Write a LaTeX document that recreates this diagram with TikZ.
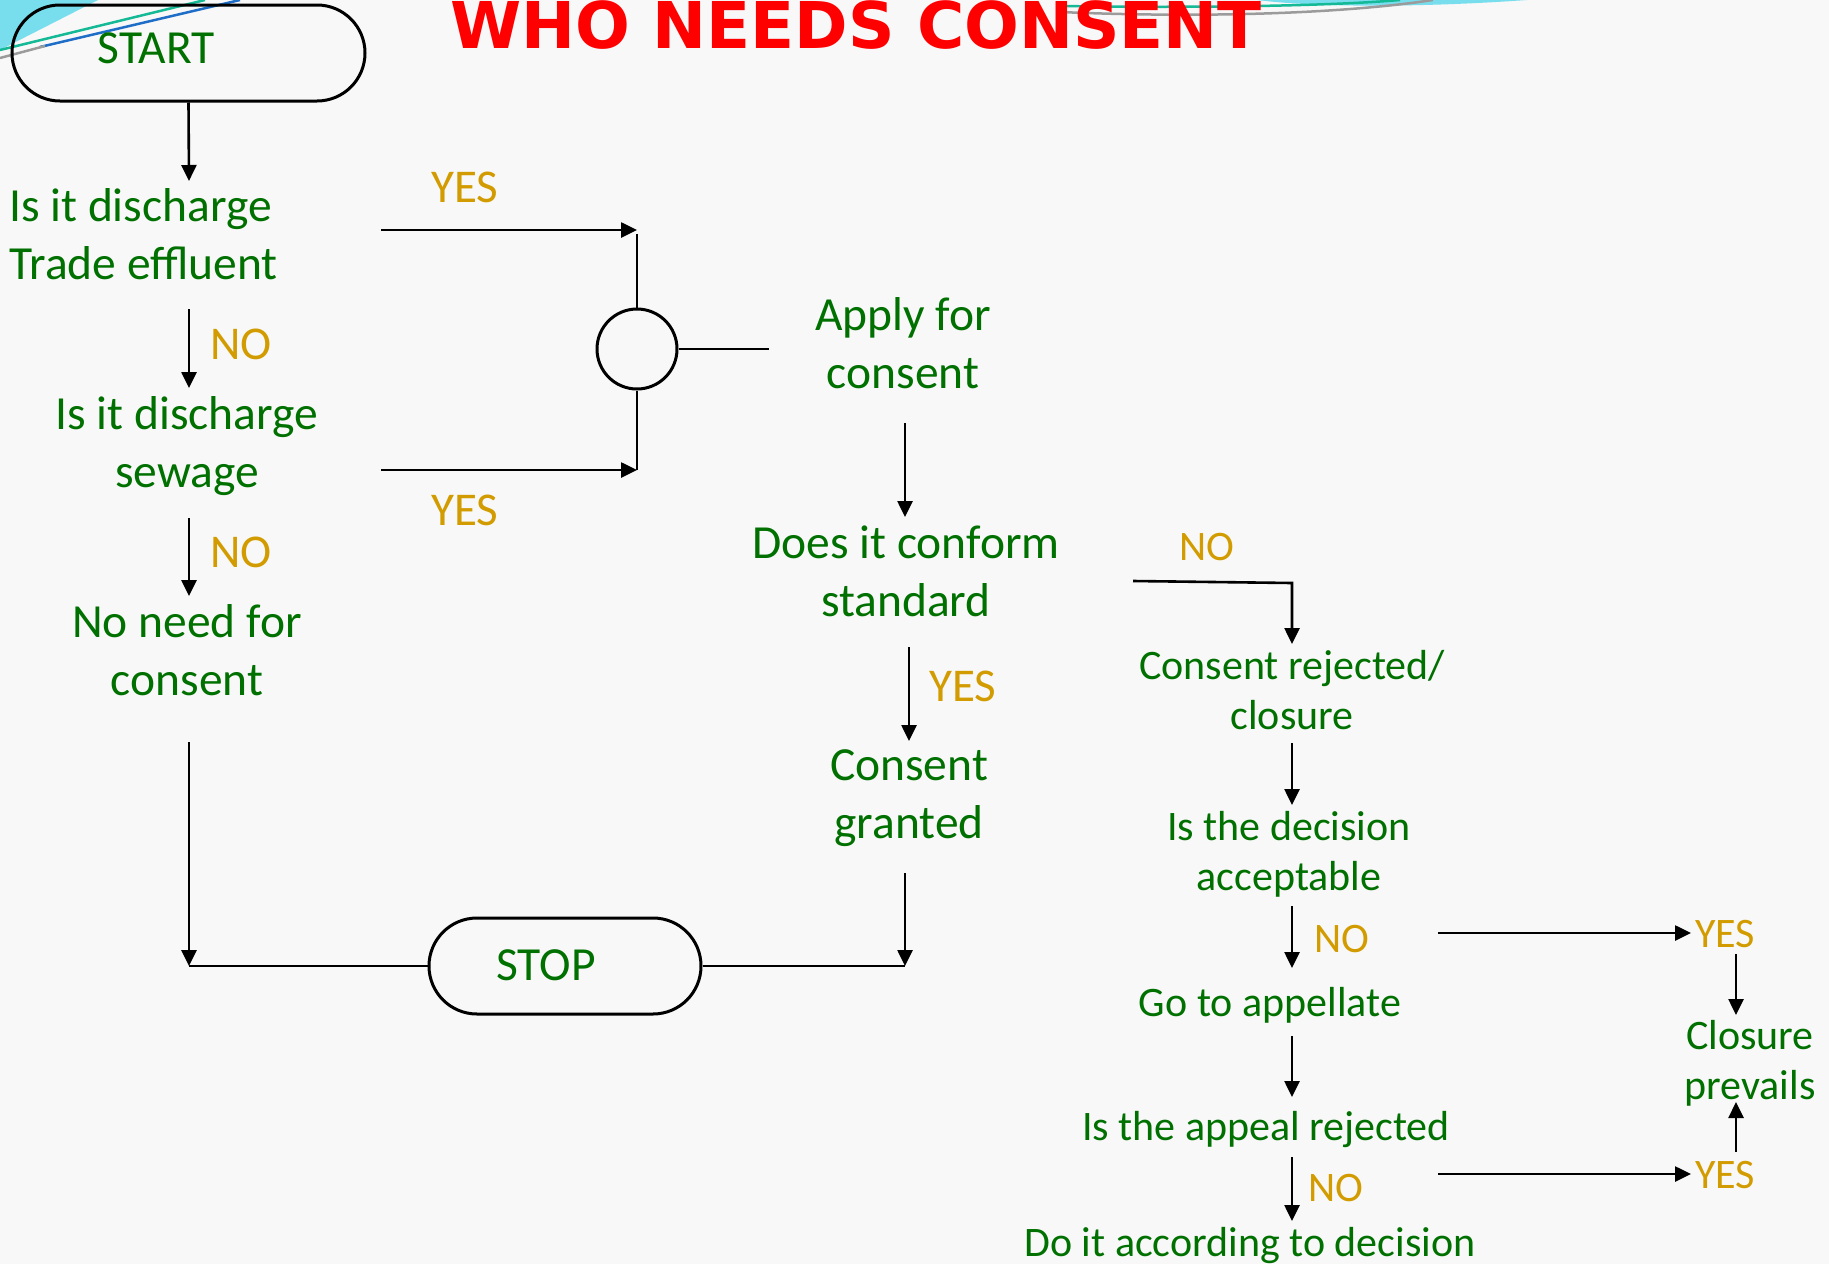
\documentclass[tikz,border=0pt]{standalone}
\usepackage{fontspec}
\setmainfont{Carlito}
\setsansfont{DejaVu Sans}
\usetikzlibrary{shapes.misc,arrows.meta}
\definecolor{txtgreen}{RGB}{0,112,0}
\definecolor{lblgold}{RGB}{210,155,0}
\definecolor{bgc}{RGB}{248,248,248}
\definecolor{cyanfill}{RGB}{120,222,238}
\definecolor{tealline}{RGB}{20,185,150}
\definecolor{blueline}{RGB}{30,110,200}
\definecolor{grayline}{RGB}{155,155,155}
\definecolor{titlered}{RGB}{255,0,0}
\begin{document}
\begin{tikzpicture}[x=1pt,y=-1pt,
 txt/.style={text=txtgreen,font=\fontsize{47.5}{58}\selectfont,align=center,inner sep=0pt},
 txts/.style={text=txtgreen,font=\fontsize{42}{50}\selectfont,align=center,inner sep=0pt},
 lbl/.style={text=lblgold,font=\fontsize{47}{56}\selectfont,inner sep=0pt},
 lbls/.style={text=lblgold,font=\fontsize{42}{50}\selectfont,inner sep=0pt},
 term/.style={draw=black,line width=3pt,rounded rectangle,minimum height=96pt,inner sep=0pt},
 conn/.style={draw=black,line width=2.6pt},
 arr/.style={conn,-{Triangle[length=16pt,width=15pt]}},
 deco/.style={line width=2.5pt},
]
\useasboundingbox (0,0) rectangle (1829,1264);
\clip (0,0) rectangle (1829,1264);
\fill[bgc] (0,0) rectangle (1829,1264);
% decorations
\fill[cyanfill] (0,0) -- (98,0) -- (0,50) -- cycle;
\draw[deco,tealline] (0,50) -- (205,0);
\draw[deco,blueline] (40,47) -- (240,0);
\draw[deco,grayline] (0,58) -- (45,46);
\fill[cyanfill] (1257,0) .. controls (1320,8) and (1430,7) .. (1527,0) -- cycle;
\draw[deco,tealline] (1060,6) .. controls (1200,8) and (1330,6) .. (1400,0);
\draw[deco,grayline] (1060,12) .. controls (1200,18) and (1340,14) .. (1433,0);
% title
\node[anchor=base,text=titlered,font=\sffamily\bfseries\fontsize{64.5}{70}\selectfont,inner sep=0pt] (title) at (856,48) {WHO NEEDS CONSENT};
% terminals
\node[term,minimum width=353pt] (start) at (188.5,53) {};
\node[txt] (starttxt) at (156,48) {START};
\node[term,minimum width=272pt] (stop) at (565,966) {};
\node[txt] (stoptxt) at (546,965) {STOP};
% left column
\node[txt,align=left,anchor=west] (q1) at (9,234) {Is it discharge\\Trade effluent};
\node[lbl] (no1) at (241,344) {NO};
\node[txt] (q2) at (187,446) {Is it discharge\\sewage};
\node[lbl] (no2) at (241,552) {NO};
\node[txt] (nn) at (187,650) {No need for\\consent};
\node[lbl] (yes1) at (465,187) {YES};
\node[lbl] (yes2) at (465,510) {YES};
\node[draw=black,line width=3pt,circle,minimum size=80pt,inner sep=0pt] (join) at (637,349) {};
% middle column
\node[txt] (apply) at (903,343) {Apply for\\consent};
\node[txt] (conform) at (906,571) {Does it conform\\standard};
\node[lbl] (yes3) at (963,686) {YES};
\node[txt] (granted) at (909,798) {Consent\\granted};
% right column
\node[lbls] (no4) at (1207,547) {NO};
\node[txts] (rejected) at (1292,690) {Consent rejected/\\closure};
\node[txts] (accept) at (1289,854) {Is the decision\\acceptable};
\node[lbls] (no5) at (1342,939) {NO};
\node[txts] (appellate) at (1270,1005) {Go to appellate};
\node[lbls] (yes4) at (1725,934) {YES};
\node[txts] (closure) at (1750,1063) {Closure\\prevails};
\node[lbls] (yes5) at (1725,1175) {YES};
\node[txts] (appeal) at (1266,1130) {Is the appeal rejected};
\node[lbls] (no6) at (1336,1188) {NO};
\node[txts] (doit) at (1250,1246) {Do it according to decision};
% connector end points
\coordinate (p1) at (189,181);
\coordinate (p2a) at (189,309); \coordinate (p2b) at (189,388);
\coordinate (p3a) at (189,518); \coordinate (p3b) at (189,596);
\coordinate (p4a) at (189,742); \coordinate (p4b) at (189,966);
\coordinate (p5a) at (381,230); \coordinate (p5b) at (637,230);
\coordinate (p6) at (637,234);
\coordinate (p7a) at (381,470); \coordinate (p7b) at (637,470);
\coordinate (p8) at (769,349);
\coordinate (p9a) at (905,423); \coordinate (p9b) at (905,517);
\coordinate (p10a) at (909,647); \coordinate (p10b) at (909,741);
\coordinate (p11a) at (905,873); \coordinate (p11b) at (905,966);
\coordinate (p12a) at (1133,581); \coordinate (p12b) at (1292,583); \coordinate (p12c) at (1292,644);
\coordinate (p13a) at (1292,743); \coordinate (p13b) at (1292,805);
\coordinate (p14a) at (1292,906); \coordinate (p14b) at (1292,968);
\coordinate (p15a) at (1292,1036); \coordinate (p15b) at (1292,1097);
\coordinate (p16a) at (1292,1157); \coordinate (p16b) at (1292,1221);
\coordinate (p17a) at (1438,933); \coordinate (p17b) at (1691,933);
\coordinate (p18a) at (1736,954); \coordinate (p18b) at (1736,1015);
\coordinate (p19a) at (1438,1174); \coordinate (p19b) at (1691,1174);
\coordinate (p20a) at (1736,1152); \coordinate (p20b) at (1736,1102);
% connectors
\draw[arr] (start.south) -- (p1);
\draw[arr] (p2a) -- (p2b);
\draw[arr] (p3a) -- (p3b);
\draw[arr] (p4a) -- (p4b);
\draw[conn] (p4b) -- (stop.west);
\draw[arr] (p5a) -- (p5b);
\draw[conn] (p6) -- (join.north);
\draw[arr] (p7a) -- (p7b);
\draw[conn] (p7b) -- (join.south);
\draw[conn] (join.east) -- (p8);
\draw[arr] (p9a) -- (p9b);
\draw[arr] (p10a) -- (p10b);
\draw[arr] (p11a) -- (p11b);
\draw[conn] (stop.east) -- (p11b);
\draw[arr] (p12a) -- (p12b) -- (p12c);
\draw[arr] (p13a) -- (p13b);
\draw[arr] (p14a) -- (p14b);
\draw[arr] (p15a) -- (p15b);
\draw[arr] (p16a) -- (p16b);
\draw[arr] (p17a) -- (p17b);
\draw[arr] (p18a) -- (p18b);
\draw[arr] (p19a) -- (p19b);
\draw[arr] (p20a) -- (p20b);
\end{tikzpicture}
\end{document}
